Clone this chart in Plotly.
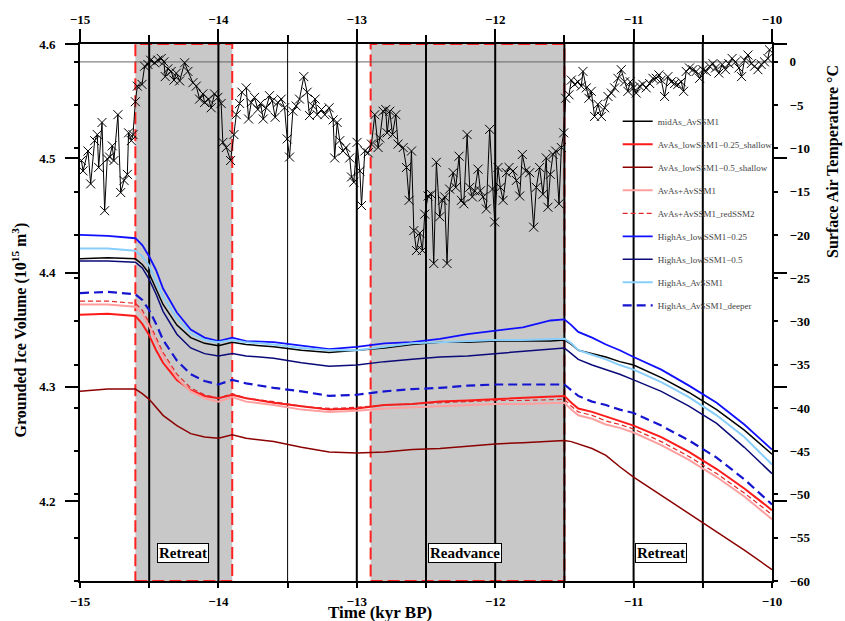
import plotly.graph_objects as go

# ---------------- data ----------------
TIME_ICE = [-15.0, -14.8, -14.6, -14.55, -14.5, -14.45, -14.4, -14.3, -14.2, -14.1, -14.0, -13.9,
            -13.8, -13.6, -13.4, -13.2, -13.0, -12.8, -12.6, -12.4, -12.2, -12.0, -11.8, -11.6,
            -11.5, -11.45, -11.4, -11.3, -11.2, -11.1, -11.0, -10.8, -10.6, -10.4, -10.2, -10.0]

midAs_AvSSM1 = [4.412, 4.413, 4.412, 4.407, 4.399, 4.386, 4.372, 4.354, 4.343, 4.338, 4.336, 4.339,
                4.337, 4.335, 4.332, 4.330, 4.332, 4.334, 4.337, 4.339, 4.339, 4.340, 4.340, 4.340,
                4.341, 4.337, 4.332, 4.329, 4.326, 4.322, 4.319, 4.308, 4.295, 4.280, 4.262, 4.241]
AvAs_lowSSM1_025_shallow = [4.363, 4.364, 4.362, 4.355, 4.345, 4.332, 4.321, 4.306, 4.297, 4.292, 4.290, 4.293,
                            4.290, 4.286, 4.283, 4.280, 4.281, 4.284, 4.285, 4.287, 4.288, 4.289, 4.290, 4.291,
                            4.292, 4.286, 4.281, 4.278, 4.274, 4.270, 4.266, 4.256, 4.243, 4.228, 4.211, 4.192]
AvAs_lowSSM1_05_shallow = [4.296, 4.298, 4.298, 4.294, 4.289, 4.282, 4.275, 4.266, 4.259, 4.256, 4.255, 4.258,
                           4.255, 4.252, 4.247, 4.243, 4.242, 4.243, 4.245, 4.246, 4.248, 4.250, 4.251, 4.252,
                           4.253, 4.252, 4.250, 4.246, 4.240, 4.230, 4.221, 4.205, 4.189, 4.173, 4.157, 4.140]
AvAs_AvSSM1 = [4.372, 4.372, 4.370, 4.364, 4.353, 4.340, 4.327, 4.308, 4.296, 4.290, 4.287, 4.291,
               4.287, 4.284, 4.280, 4.278, 4.279, 4.281, 4.282, 4.283, 4.284, 4.285, 4.285, 4.286,
               4.286, 4.280, 4.275, 4.272, 4.267, 4.264, 4.260, 4.249, 4.236, 4.221, 4.204, 4.184]
AvAs_AvSSM1_redSSM2 = [4.375, 4.375, 4.373, 4.367, 4.356, 4.343, 4.330, 4.311, 4.299, 4.293, 4.290, 4.294,
                       4.290, 4.287, 4.283, 4.281, 4.282, 4.284, 4.285, 4.286, 4.287, 4.288, 4.288, 4.289,
                       4.289, 4.283, 4.278, 4.275, 4.270, 4.267, 4.263, 4.252, 4.239, 4.224, 4.207, 4.188]
HighAs_lowSSM1_025 = [4.433, 4.432, 4.430, 4.424, 4.414, 4.402, 4.386, 4.365, 4.350, 4.343, 4.340, 4.343,
                      4.340, 4.339, 4.336, 4.333, 4.335, 4.338, 4.339, 4.342, 4.346, 4.349, 4.352, 4.358,
                      4.359, 4.354, 4.348, 4.343, 4.337, 4.332, 4.326, 4.315, 4.301, 4.286, 4.267, 4.245]
HighAs_lowSSM1_05 = [4.410, 4.410, 4.409, 4.404, 4.394, 4.381, 4.366, 4.346, 4.334, 4.329, 4.327, 4.329,
                     4.327, 4.325, 4.321, 4.318, 4.319, 4.322, 4.324, 4.326, 4.327, 4.329, 4.331, 4.333,
                     4.334, 4.329, 4.324, 4.319, 4.315, 4.311, 4.306, 4.296, 4.283, 4.268, 4.247, 4.224]
HighAs_AvSSM1 = [4.421, 4.421, 4.419, 4.414, 4.406, 4.393, 4.379, 4.360, 4.347, 4.341, 4.339, 4.341,
                 4.339, 4.337, 4.334, 4.332, 4.332, 4.335, 4.338, 4.339, 4.340, 4.341, 4.341, 4.342,
                 4.342, 4.338, 4.332, 4.328, 4.324, 4.319, 4.315, 4.304, 4.291, 4.275, 4.256, 4.232]
HighAs_AvSSM1_deeper = [4.382, 4.383, 4.381, 4.376, 4.367, 4.355, 4.341, 4.323, 4.311, 4.305, 4.302, 4.306,
                        4.303, 4.299, 4.296, 4.292, 4.293, 4.296, 4.298, 4.299, 4.301, 4.302, 4.302, 4.302,
                        4.302, 4.297, 4.292, 4.287, 4.284, 4.280, 4.277, 4.266, 4.253, 4.238, 4.219, 4.197]

TEMP_TIME = [
    -14.990, -14.978, -14.942, -14.923, -14.894, -14.875, -14.865, -14.841, -14.822, -14.803,
    -14.786, -14.767, -14.755, -14.726, -14.706, -14.682, -14.658, -14.649, -14.629, -14.617,
    -14.600, -14.586, -14.552, -14.533, -14.509, -14.490, -14.461, -14.437, -14.413, -14.394,
    -14.384, -14.365, -14.341, -14.321, -14.304, -14.280, -14.244, -14.220, -14.184, -14.160,
    -14.136, -14.112, -14.100, -14.071, -14.052, -14.028, -14.004, -13.980, -13.968, -13.943,
    -13.912, -13.888, -13.871, -13.847, -13.830, -13.799, -13.782, -13.763, -13.739, -13.715,
    -13.696, -13.676, -13.655, -13.631, -13.611, -13.590, -13.570, -13.546, -13.522, -13.503,
    -13.486, -13.462, -13.438, -13.414, -13.383, -13.359, -13.342, -13.318, -13.301,
    -13.286, -13.255, -13.231, -13.200, -13.171, -13.160, -13.142, -13.123, -13.099, -13.079,
    -13.051, -13.038, -13.022, -12.998, -12.978, -12.966, -12.942, -12.918, -12.894, -12.870,
    -12.846, -12.834, -12.810, -12.791, -12.781, -12.762, -12.742, -12.718, -12.702, -12.665,
    -12.641, -12.622, -12.605, -12.588, -12.569, -12.545, -12.526, -12.509, -12.485, -12.461,
    -12.444, -12.425, -12.401, -12.381, -12.365, -12.348, -12.329, -12.304, -12.285, -12.261,
    -12.244, -12.227, -12.203, -12.184, -12.165, -12.148, -12.124, -12.107, -12.088, -12.064,
    -12.040, -12.020, -12.004, -11.980, -11.963, -11.943, -11.919, -11.900, -11.871, -11.847,
    -11.823, -11.804, -11.780, -11.751, -11.722, -11.703, -11.679, -11.655, -11.631, -11.619,
    -11.602, -11.582, -11.563, -11.539, -11.522, -11.505, -11.491, -11.467, -11.450, -11.426,
    -11.402, -11.378, -11.366, -11.342, -11.323, -11.306, -11.282, -11.258, -11.233, -11.209,
    -11.185, -11.161, -11.137, -11.113, -11.089, -11.065, -11.041, -11.024, -11.000, -10.981,
    -10.957, -10.933, -10.909, -10.884, -10.860, -10.836, -10.817, -10.800, -10.776, -10.752,
    -10.728, -10.704, -10.680, -10.656, -10.639, -10.620, -10.596, -10.572, -10.548, -10.523,
    -10.499, -10.475, -10.451, -10.427, -10.408, -10.384, -10.360, -10.336, -10.312, -10.288,
    -10.264, -10.239, -10.220, -10.199, -10.174, -10.150, -10.126, -10.102, -10.078, -10.054,
    -10.030, -10.018]

TEMP_VALUES = [
    -11.4, -12.6, -10.3, -14.1, -9.1, -8.4, -12.2, -7.0, -17.2, -11.2,
    -11.0, -9.7, -11.4, -6.1, -15.1, -13.7, -13.0, -8.2, -9.1, -8.4,
    -4.6, -2.8, -2.6, -0.5, -0.3, 0.2, -0.1, 0.2, 0.4, 0.0,
    -1.7, -0.8, -1.1, -2.1, -1.3, -2.2, -0.1, -1.1, -2.4, -2.8,
    -4.3, -3.7, -4.7, -4.3, -5.3, -3.7, -4.1, -4.8, -9.3, -9.9,
    -11.4, -8.4, -6.1, -4.8, -3.5, -3.0, -6.6, -4.7, -4.1, -5.5,
    -4.8, -6.6, -5.3, -3.9, -4.5, -6.4, -4.7, -4.3, -5.3, -8.9,
    -11.0, -5.7, -5.1, -4.3, -1.7, -3.5, -6.2, -5.1, -4.3,
    -6.1, -5.5, -6.1, -5.3, -6.7, -11.1, -7.0, -9.1, -10.3, -9.9,
    -11.1, -13.3, -13.9, -9.3, -12.6, -16.6, -10.3, -10.5, -9.5, -6.1,
    -9.9, -8.8, -5.7, -5.5, -8.2, -5.7, -8.4, -6.1, -9.5, -9.9,
    -12.2, -16.0, -10.3, -19.5, -21.8, -19.8, -21.8, -17.6, -15.5, -15.3,
    -23.3, -11.6, -17.9, -16.0, -15.6, -23.3, -14.7, -12.8, -14.5, -10.9,
    -16.0, -16.4, -8.4, -14.5, -15.6, -14.9, -12.4, -14.9, -15.6, -17.0,
    -7.8, -14.7, -18.5, -12.2, -14.5, -16.0, -12.8, -12.2, -12.6, -13.7,
    -15.5, -10.7, -12.6, -12.8, -19.1, -14.5, -12.2, -15.3, -11.1, -16.8,
    -13.0, -10.7, -10.3, -16.4, -9.9, -8.2, -4.2, -3.8, -2.1, -2.6,
    -2.3, -2.8, -1.1, -3.0, -4.2, -3.4, -6.3, -4.9, -6.3, -5.3,
    -4.0, -3.6, -3.0, -1.9, -0.9, -2.3, -3.4, -2.3, -3.0, -3.6,
    -2.8, -2.6, -3.0, -2.5, -1.9, -1.9, -1.5, -2.1, -4.0, -1.7,
    -2.3, -2.5, -2.6, -2.3, -3.4, -1.1, -0.7, -0.9, -1.1, -1.9,
    -0.9, -1.1, -0.5, -0.2, -0.7, -1.3, -0.3, -0.9, -0.2, 0.4,
    0.0, -0.7, -1.7, 0.2, 0.8, -0.2, -0.5, -0.9, -0.3, 0.0,
    0.4, 1.4]

SERIES_NAMES = ["midAs_AvSSM1", "AvAs_lowSSM1\u22120.25_shallow", "AvAs_lowSSM1\u22120.5_shallow",
                "AvAs+AvSSM1", "AvAs+AvSSM1_redSSM2", "HighAs_lowSSM1\u22120.25",
                "HighAs_lowSSM1\u22120.5", "HighAs_AvSSM1", "HighAs_AvSSM1_deeper"]
SERIES_VALUES = [midAs_AvSSM1, AvAs_lowSSM1_025_shallow, AvAs_lowSSM1_05_shallow, AvAs_AvSSM1,
                 AvAs_AvSSM1_redSSM2, HighAs_lowSSM1_025, HighAs_lowSSM1_05, HighAs_AvSSM1,
                 HighAs_AvSSM1_deeper]

SHADED = [(-14.6, -13.9), (-12.9, -11.5)]
VLINES_THICK = [-14.5, -14.0, -13.0, -12.5, -12.0, -11.5, -11.0, -10.5]
VLINES_THIN = [-13.5]
PHASE_LABELS = ["Retreat", "Readvance", "Retreat"]
PHASE_X = [-14.256, -12.22, -10.805]

# ---------------- styles ----------------
STYLES = [
    dict(color="black", width=1.5),
    dict(color="#ff1a1a", width=2),
    dict(color="#8b0000", width=1.5),
    dict(color="#ff9f9f", width=2),
    dict(color="#e02828", width=1.2, dash="5px,3px"),
    dict(color="#1010ff", width=1.8),
    dict(color="#0a0a78", width=1.5),
    dict(color="#87cefa", width=2),
    dict(color="#1515d0", width=2.2, dash="9px,5px"),
]
FONT = "Liberation Serif"

fig = go.Figure()

for name, vals, st in zip(SERIES_NAMES, SERIES_VALUES, STYLES):
    fig.add_trace(go.Scatter(x=TIME_ICE, y=vals, mode="lines", name=name, line=st,
                             legendgroup=name, xaxis="x", yaxis="y"))

fig.add_trace(go.Scatter(x=TEMP_TIME, y=TEMP_VALUES, mode="lines+markers", showlegend=False,
                         line=dict(color="black", width=1),
                         marker=dict(symbol="x-thin", size=9, color="black",
                                     line=dict(width=1, color="black")),
                         xaxis="x", yaxis="y2"))

fig.add_trace(go.Scatter(x=[None], y=[None], xaxis="x2", yaxis="y", showlegend=False,
                         hoverinfo="skip"))

shapes = []
for x0, x1 in SHADED:
    shapes.append(dict(type="rect", xref="x", yref="paper", x0=x0, x1=x1, y0=0, y1=1,
                       fillcolor="#c8c8c8", line=dict(color="#ff2020", width=2, dash="12px,5px"),
                       layer="below"))
shapes.append(dict(type="line", xref="paper", yref="y2", x0=0, x1=1, y0=0, y1=0,
                   line=dict(color="#666666", width=1), layer="below"))
for v in VLINES_THICK:
    shapes.append(dict(type="line", xref="x", yref="paper", x0=v, x1=v, y0=0, y1=1,
                       line=dict(color="black", width=2), layer="below"))
for v in VLINES_THIN:
    shapes.append(dict(type="line", xref="x", yref="paper", x0=v, x1=v, y0=0, y1=1,
                       line=dict(color="black", width=1), layer="below"))

annotations = []
for lab, x in zip(PHASE_LABELS, PHASE_X):
    annotations.append(dict(x=x, y=4.1546, xref="x", yref="y", text="<b>" + lab + "</b>",
                            showarrow=False, xanchor="center", yanchor="middle",
                            font=dict(family=FONT, size=15, color="black"),
                            bgcolor="white", bordercolor="black", borderwidth=1, borderpad=1))
annotations.append(dict(x=-0.087, y=0.468, xref="paper", yref="paper",
                        xanchor="center", yanchor="middle",
                        text="<b>Grounded Ice Volume (10<sup>15</sup> m<sup>3</sup>)</b>",
                        textangle=-90, showarrow=False,
                        font=dict(family=FONT, size=16, color="black")))
annotations.append(dict(x=1.088, y=0.782, xref="paper", yref="paper",
                        xanchor="center", yanchor="middle",
                        text="<b>Surface Air Temperature \u00b0C</b>",
                        textangle=-90, showarrow=False,
                        font=dict(family=FONT, size=16, color="black")))
annotations.append(dict(x=0.4335, y=-0.058, xref="paper", yref="paper",
                        xanchor="center", yanchor="middle",
                        text="<b>Time (kyr BP)</b>", showarrow=False,
                        font=dict(family=FONT, size=17, color="black")))

tickfont = dict(family=FONT, size=13, color="black", weight="bold")

fig.update_layout(
    width=845, height=621,
    margin=dict(l=80, r=73, t=44, b=36),
    paper_bgcolor="white", plot_bgcolor="white",
    font=dict(family=FONT, color="black"),
    shapes=shapes, annotations=annotations,
    showlegend=True,
    legend=dict(x=0.777, y=0.883, xanchor="left", yanchor="top",
                bgcolor="rgba(0,0,0,0)", borderwidth=0,
                font=dict(family=FONT, size=9, color="#444444"),
                tracegroupgap=4, traceorder="grouped"),
    xaxis=dict(range=[-15, -10], showline=True, linewidth=2, linecolor="black",
               ticks="outside", ticklen=5, tickwidth=2, tickcolor="black",
               tick0=-15, dtick=1,
               minor=dict(dtick=0.5, ticklen=5, tickwidth=2, tickcolor="black", ticks="outside"),
               showgrid=False, zeroline=False, tickfont=tickfont, ticklabelstandoff=2),
    xaxis2=dict(range=[-15, -10], overlaying="x", side="top", anchor="y",
                showline=True, linewidth=2, linecolor="black",
                ticks="outside", ticklen=13, tickwidth=2, tickcolor="black",
                tick0=-15, dtick=1,
                minor=dict(dtick=0.5, ticklen=7, tickwidth=2, tickcolor="black", ticks="outside"),
                showgrid=False, zeroline=False, tickfont=tickfont),
    yaxis=dict(range=[4.13, 4.6], tick0=4.2, dtick=0.1, tickformat=".1f",
               showline=True, linewidth=2, linecolor="black", mirror="ticks",
               ticks="outside", ticklen=13, tickwidth=2, tickcolor="black",
               showgrid=False, zeroline=False, tickfont=tickfont, ticklabelstandoff=7),
    yaxis2=dict(range=[-60, 2.07], overlaying="y", side="right", anchor="x",
                tick0=0, dtick=5,
                showline=True, linewidth=2, linecolor="black", mirror="ticks",
                ticks="outside", ticklen=4, tickwidth=2, tickcolor="black",
                showgrid=False, zeroline=False, tickfont=tickfont, ticklabelstandoff=9),
)

fig.write_html("out.html", config={"displayModeBar": False},
               post_script="document.body.style.margin='0px';")
